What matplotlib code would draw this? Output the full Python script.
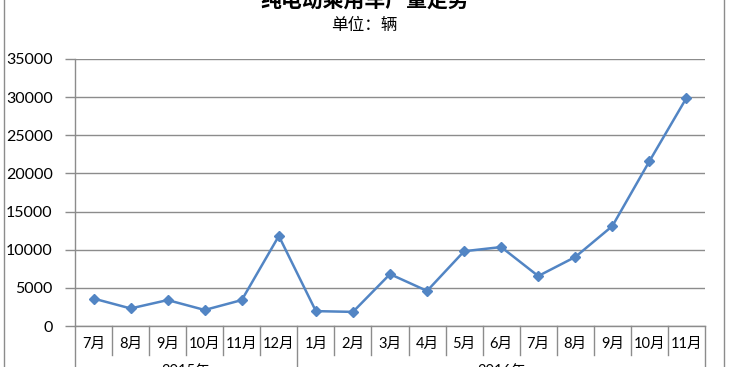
import matplotlib
matplotlib.use('Agg')
import matplotlib.pyplot as plt
from matplotlib.patches import Rectangle

plt.rcParams['font.family'] = ['Lato', 'Noto Sans CJK SC', 'DejaVu Sans']

# data
months = ['7月', '8月', '9月', '10月', '11月', '12月',
          '1月', '2月', '3月', '4月', '5月', '6月', '7月', '8月', '9月', '10月', '11月']
years = ['2015年', '2016年']
year_sizes = [6, 11]
output = [3600, 2300, 3400, 2100, 3400, 11800,
          1950, 1850, 6800, 4600, 9800, 10350, 6550, 9050, 13100, 21600, 29900]
y_ticks = [0, 5000, 10000, 15000, 20000, 25000, 30000, 35000]

LINE = '#5285C4'
GRID = '#8C8C8C'
W, H = 730, 367

fig = plt.figure(figsize=(W / 100, H / 100), dpi=100)
ax = fig.add_axes([75 / W, (H - 326) / H, 630 / W, 267 / H])

# outer chart frame
fig.patches.append(Rectangle((4 / W, -0.1), 720 / W, 1.2, transform=fig.transFigure,
                             fill=False, edgecolor=GRID, linewidth=1))

x = list(range(len(months)))
ax.plot(x, output, color=LINE, linewidth=1.8, marker='D', markersize=5,
        markerfacecolor=LINE, markeredgecolor=LINE, zorder=3)

ax.set_xlim(-0.5, len(months) - 0.5)
ax.set_ylim(y_ticks[0], y_ticks[-1])
ax.set_yticks(y_ticks)
ax.set_yticklabels([str(v) for v in y_ticks], fontsize=11.5)
ax.grid(axis='y', color=GRID, linewidth=1)
ax.set_axisbelow(True)

ax.set_xticks(x)
ax.set_xticklabels(months, fontsize=10.5)
ax.tick_params(axis='x', length=0, pad=8)
ax.tick_params(axis='y', length=7, width=1, color=GRID, pad=9)

for s in ['top', 'right']:
    ax.spines[s].set_visible(False)
for s in ['left', 'bottom']:
    ax.spines[s].set_color(GRID)
    ax.spines[s].set_linewidth(1)

# category separators below the axis
tr = ax.get_xaxis_transform()
short = -29 / 267
long = -0.3
bounds = [0]
for n in year_sizes:
    bounds.append(bounds[-1] + n)
for i in range(len(months) + 1):
    xb = i - 0.5
    y_end = long if i in bounds else short
    ax.plot([xb, xb], [0, y_end], color=GRID, linewidth=1, transform=tr, clip_on=False)

# year group labels (mostly cut off at the bottom)
for k, yr in enumerate(years):
    xc = (bounds[k] + bounds[k + 1]) / 2 - 0.5
    ax.text(xc, -38.5 / 267, yr, transform=tr, ha='center', va='top', fontsize=10.5)

fig.text(365 / W, 1.0, '纯电动乘用车产量走势', ha='center', va='center',
         fontsize=15, fontweight='bold')
fig.text(364 / W, 1 - 25 / H, '单位：辆', ha='center', va='center', fontsize=12)

fig.savefig('out.png', dpi=100)
